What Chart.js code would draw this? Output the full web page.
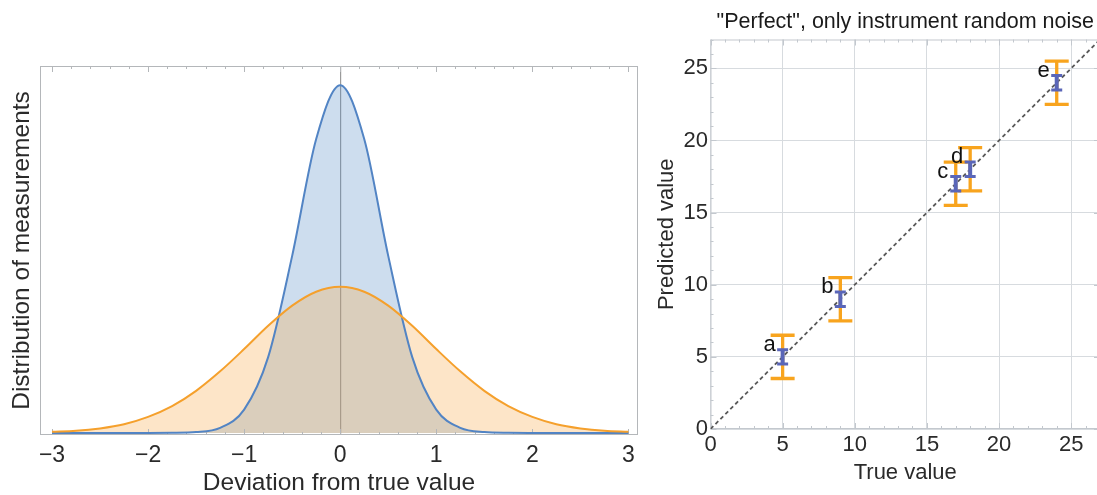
<!DOCTYPE html>
<html>
<head>
<meta charset="utf-8">
<script src="https://cdn.jsdelivr.net/npm/chart.js@4.4.1/dist/chart.umd.min.js"></script>
<style>
  html, body { margin: 0; padding: 0; background: #fff; overflow: hidden; width: 1097px; height: 495px; }
  #left { position: absolute; left: 0; top: 0; }
  #right { position: absolute; left: 640px; top: 0; }
</style>
</head>
<body>
<canvas id="left" width="660" height="495"></canvas>
<canvas id="right" width="460" height="495"></canvas>
<script>
// ---- left panel: two distributions
const deviation = [-3, -2.75, -2.5, -2.25, -2, -1.75, -1.5, -1.25, -1, -0.75, -0.5, -0.25, 0,
                   0.25, 0.5, 0.75, 1, 1.25, 1.5, 1.75, 2, 2.25, 2.5, 2.75, 3];
const narrowDist = [0, 0, 0, 0, 0, 0.0003, 0.0023, 0.0146, 0.067, 0.218, 0.509, 0.845, 1,
                    0.845, 0.509, 0.218, 0.067, 0.0146, 0.0023, 0.0003, 0, 0, 0, 0, 0];
const wideDist = [0.003, 0.006, 0.013, 0.025, 0.046, 0.077, 0.121, 0.177, 0.241, 0.308, 0.366, 0.406, 0.42,
                  0.406, 0.366, 0.308, 0.241, 0.177, 0.121, 0.077, 0.046, 0.025, 0.013, 0.006, 0.003];
const leftTicks = [-3, -2, -1, 0, 1, 2, 3];

// ---- right panel: predicted vs true
const pointNames = ['a', 'b', 'c', 'd', 'e'];
const trueValues = [5, 9, 17, 18, 24];
const predictedValues = [5, 9, 17, 18, 24];
const instrumentError = [0.5, 0.5, 0.5, 0.5, 0.5];
const totalError = [1.5, 1.5, 1.5, 1.5, 1.5];
const identityLine = [0, 27];
const rightTicks = [0, 5, 10, 15, 20, 25];

Chart.defaults.font.family = "'Liberation Sans', Arial, sans-serif";
Chart.defaults.color = '#2a2a2a';

// рамка графика и короткие засечки внутрь
const framePlugin = {
  id: 'frame',
  beforeDatasetsDraw(chart, args, opts) {
    const { ctx, chartArea: a, scales } = chart;
    ctx.save();
    ctx.strokeStyle = opts.color;
    ctx.lineWidth = 1;
    ctx.strokeRect(a.left + 0.5, a.top + 0.5, a.right - a.left - 1, a.bottom - a.top - 1);
    const marks = (scale, step, major, from, to, draw) => {
      for (let k = Math.round(from / step); k * step <= to + 1e-9; k++) {
        const v = k * step;
        const isMajor = Math.abs(v / major - Math.round(v / major)) < 1e-6;
        draw(scale.getPixelForValue(v), isMajor ? 6 : 3);
      }
    };
    ctx.beginPath();
    if (opts.x) {
      const s = scales.x, o = opts.x;
      marks(s, o.step, o.major, o.from, o.to, (p, len) => {
        const px = Math.round(p) + 0.5;
        ctx.moveTo(px, a.bottom); ctx.lineTo(px, a.bottom - len);
        ctx.moveTo(px, a.top); ctx.lineTo(px, a.top + len);
      });
    }
    if (opts.y) {
      const s = scales.y, o = opts.y;
      marks(s, o.step, o.major, o.from, o.to, (p, len) => {
        const py = Math.round(p) + 0.5;
        ctx.moveTo(a.left, py); ctx.lineTo(a.left + len, py);
        ctx.moveTo(a.right, py); ctx.lineTo(a.right - len, py);
      });
    }
    ctx.stroke();
    ctx.restore();
  }
};

// буквы возле точек
const letterPlugin = {
  id: 'letters',
  afterDatasetsDraw(chart) {
    const { ctx, scales } = chart;
    ctx.save();
    ctx.font = "22px 'Liberation Sans', Arial, sans-serif";
    ctx.fillStyle = '#111';
    ctx.textAlign = 'center';
    ctx.textBaseline = 'middle';
    pointNames.forEach((name, i) => {
      const px = scales.x.getPixelForValue(trueValues[i]);
      const py = scales.y.getPixelForValue(predictedValues[i]);
      ctx.fillText(name, px - 13, py - 12);
    });
    ctx.restore();
  }
};

const minusSign = v => String(v).replace('-', '\u2212');

new Chart(document.getElementById('left'), {
  type: 'scatter',
  data: {
    datasets: [
      {
        data: deviation.map((x, i) => ({ x, y: wideDist[i] })),
        showLine: true,
        cubicInterpolationMode: 'monotone',
        borderColor: '#f5a02c',
        borderWidth: 2,
        backgroundColor: 'rgba(248,168,72,0.3)',
        fill: 'origin',
        pointRadius: 0
      },
      {
        data: deviation.map((x, i) => ({ x, y: narrowDist[i] })),
        showLine: true,
        cubicInterpolationMode: 'monotone',
        borderColor: '#5284c4',
        borderWidth: 2,
        backgroundColor: 'rgba(88,142,198,0.3)',
        fill: 'origin',
        pointRadius: 0
      }
    ]
  },
  options: {
    responsive: false,
    animation: false,
    devicePixelRatio: 1,
    layout: { autoPadding: false, padding: { top: 66, right: 22, left: 0, bottom: 0 } },
    plugins: {
      legend: { display: false },
      tooltip: { enabled: false },
      filler: { drawTime: 'beforeDatasetsDraw' },
      frame: { color: '#b4b7ba', x: { step: 0.2, major: 1, from: -3, to: 3 } }
    },
    scales: {
      x: {
        type: 'linear',
        min: -3.125,
        max: 3.1,
        afterBuildTicks: s => { s.ticks = leftTicks.map(v => ({ value: v })); },
        afterFit: s => { s.height = 60; s.paddingLeft = 0; s.paddingRight = 0; },
        ticks: { font: { size: 23 }, padding: 7, maxRotation: 0, callback: minusSign },
        grid: {
          drawTicks: false,
          color: c => (c.tick && c.tick.value === 0 ? '#9a9a9a' : 'rgba(0,0,0,0)'),
          lineWidth: 1.2
        },
        border: { display: false },
        title: {
          display: true,
          text: 'Deviation from true value',
          font: { size: 24.5, lineHeight: 1 },
          padding: { top: 0, bottom: 0 }
        }
      },
      y: {
        min: -0.006,
        max: 1.055,
        afterFit: s => { s.width = 40; },
        ticks: { display: false },
        grid: { display: false },
        border: { display: false },
        title: {
          display: true,
          text: 'Distribution of measurements',
          font: { size: 24.5 },
          padding: { top: 7.3, bottom: 0 }
        }
      }
    }
  },
  plugins: [framePlugin]
});

function errorBar(err) {
  const pts = [];
  trueValues.forEach((x, i) => {
    pts.push({ x, y: predictedValues[i] - err[i] });
    pts.push({ x, y: predictedValues[i] + err[i] });
    pts.push({ x, y: null });
  });
  return pts;
}

new Chart(document.getElementById('right'), {
  type: 'scatter',
  data: {
    datasets: [
      {
        data: errorBar(instrumentError),
        showLine: true,
        spanGaps: false,
        borderColor: '#5a66b8',
        borderWidth: 4,
        pointStyle: 'line',
        pointRadius: 5.5,
        pointBorderWidth: 3,
        pointBorderColor: '#5a66b8'
      },
      {
        data: errorBar(totalError),
        showLine: true,
        spanGaps: false,
        borderColor: '#f8a41e',
        borderWidth: 3.3,
        pointStyle: 'line',
        pointRadius: 12,
        pointBorderWidth: 3.3,
        pointBorderColor: '#f8a41e'
      },
      {
        data: identityLine.map(v => ({ x: v, y: v })),
        showLine: true,
        borderColor: '#5a5a5a',
        borderWidth: 1.8,
        borderDash: [4, 3],
        pointRadius: 0
      }
    ]
  },
  options: {
    responsive: false,
    animation: false,
    devicePixelRatio: 1,
    layout: { autoPadding: false, padding: { top: 0, right: 0, left: 0, bottom: 0 } },
    plugins: {
      legend: { display: false },
      tooltip: { enabled: false },
      title: {
        display: true,
        fullSize: false,
        text: '"Perfect", only instrument random noise',
        color: '#1a1a1a',
        font: { size: 21.5, weight: 'normal' },
        padding: { top: 9.2, bottom: 4.5 }
      },
      frame: {
        color: '#c3c8ce',
        x: { step: 1, major: 5, from: 0, to: 27 },
        y: { step: 1, major: 5, from: 0, to: 27 }
      }
    },
    scales: {
      x: {
        type: 'linear',
        min: 0,
        max: 27,
        afterBuildTicks: s => { s.ticks = rightTicks.map(v => ({ value: v })); },
        afterFit: s => { s.height = 66; s.paddingLeft = 0; s.paddingRight = 0; },
        ticks: { font: { size: 22 }, padding: 3, maxRotation: 0 },
        grid: { drawTicks: false, color: '#d7dbdf', lineWidth: 1 },
        border: { display: false },
        title: {
          display: true,
          text: 'True value',
          font: { size: 22 },
          padding: { top: 0, bottom: 8.8 }
        }
      },
      y: {
        min: 0,
        max: 27,
        afterBuildTicks: s => { s.ticks = rightTicks.map(v => ({ value: v })); },
        afterFit: s => { s.width = 70.5; s.paddingTop = 0; s.paddingBottom = 0; },
        ticks: { font: { size: 22 }, padding: 2.5 },
        grid: { drawTicks: false, color: '#d7dbdf', lineWidth: 1 },
        border: { display: false },
        title: {
          display: true,
          text: 'Predicted value',
          font: { size: 22 },
          padding: { top: 13.5, bottom: 0 }
        }
      }
    }
  },
  plugins: [framePlugin, letterPlugin]
});
</script>
</body>
</html>
